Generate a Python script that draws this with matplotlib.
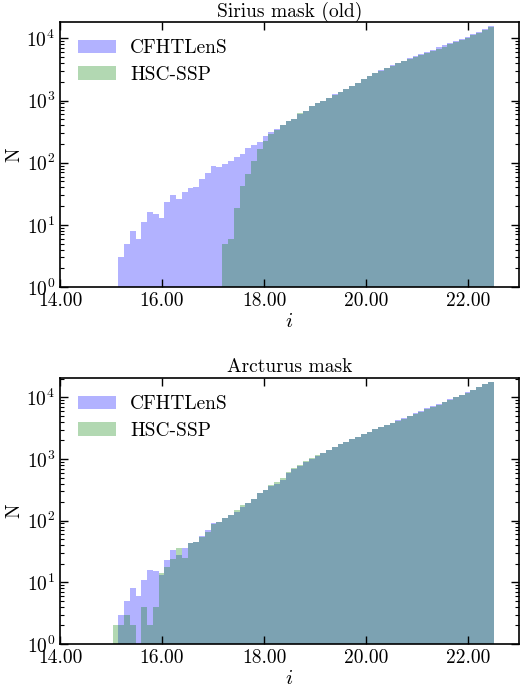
import numpy as np
import matplotlib
matplotlib.use("Agg")
import matplotlib.pyplot as plt
from matplotlib.ticker import FixedLocator, FormatStrFormatter, LogLocator, NullLocator

plt.rcParams['font.family'] = 'serif'
plt.rcParams['font.serif'] = ['cmr10', 'DejaVu Serif']
plt.rcParams['mathtext.fontset'] = 'cm'
plt.rcParams['axes.formatter.use_mathtext'] = True

# histogram binning (i magnitude)
bin_lo, bin_hi, n_bins = 15.03, 22.5, 66
edges = np.linspace(bin_lo, bin_hi, n_bins + 1)

# Panel 1: Sirius mask (old)
sirius_cfht = [0, 3, 5, 8, 6, 11, 16, 15, 13, 23, 30, 26, 34, 39, 41, 55, 68, 89, 84, 95,
               108, 122, 140, 172, 195, 213, 265, 318, 348, 410, 475, 505, 615, 670, 810, 915,
               975, 1100, 1259, 1396, 1549, 1718, 1928, 2213, 2512, 2786, 3090, 3388, 3715,
               4074, 4416, 4786, 5188, 5623, 6095, 6607, 7161, 7762, 8414, 9120, 9886, 10715,
               11749, 12882, 14289, 15776]
sirius_hsc = [0, 0, 0, 0, 0, 0, 0, 0, 0, 0, 0, 0, 0, 0, 0, 0, 0, 0, 0, 5,
              6, 19, 43, 66, 105, 165, 220, 290, 340, 405, 470, 505, 630, 690, 820, 910,
              970, 1090, 1250, 1390, 1540, 1710, 1915, 2200, 2490, 2750, 3040, 3330, 3640,
              3980, 4300, 4640, 5000, 5400, 5840, 6330, 6850, 7420, 8040, 8720, 9460, 10250,
              11250, 12350, 13700, 15150]

# Panel 2: Arcturus mask
arct_cfht = [0, 3, 5, 8, 6, 11, 16, 15, 13, 23, 33, 28, 36, 43, 45, 57, 70, 92, 96, 109,
             123, 140, 165, 190, 221, 277, 313, 363, 400, 460, 589, 676, 776, 902, 1000, 1109,
             1230, 1380, 1549, 1718, 1905, 2089, 2291, 2512, 2754, 3020, 3273, 3548, 3890,
             4217, 4571, 5012, 5495, 6026, 6607, 7161, 7762, 8511, 9226, 10000, 10839, 12023,
             13183, 14622, 16218, 17783]
arct_hsc = [2, 2, 3, 2, 0, 4, 2, 4, 14, 18, 24, 36, 25, 43, 45, 55, 66, 88, 96, 109,
            123, 148, 178, 190, 221, 277, 320, 385, 425, 500, 615, 710, 810, 940, 1040, 1140,
            1250, 1390, 1560, 1725, 1910, 2090, 2290, 2510, 2750, 3010, 3260, 3530, 3870,
            4190, 4530, 4950, 5400, 5850, 6350, 6900, 7550, 8400, 9150, 9950, 10800, 11950,
            13100, 14550, 16150, 17700]

titles = ["Sirius mask (old)", "Arcturus mask"]
series = [(sirius_cfht, sirius_hsc), (arct_cfht, arct_hsc)]
labels = ["CFHTLenS", "HSC-SSP"]
xticks = [14, 16, 18, 20, 22]
ytops = [10**4.265, 10**4.318]

fig = plt.figure(figsize=(5.2, 6.88), dpi=100)
rects = [[60/520, 1-287/688, 459/520, 265/688],
         [60/520, 1-644/688, 459/520, 266.3/688]]

centers = 0.5 * (edges[:-1] + edges[1:])
for rect, title, (cf, hs), ytop in zip(rects, titles, series, ytops):
    ax = fig.add_axes(rect)
    ax.hist(centers, bins=edges, weights=np.array(cf, float), histtype='stepfilled',
            color='b', alpha=0.3, linewidth=0, label=labels[0])
    ax.hist(centers, bins=edges, weights=np.array(hs, float), histtype='stepfilled',
            color='g', alpha=0.3, linewidth=0, label=labels[1])
    ax.set_yscale('log')
    ax.set_xlim(14, 23)
    ax.set_ylim(1, ytop)
    ax.xaxis.set_major_locator(FixedLocator(xticks))
    ax.xaxis.set_major_formatter(FormatStrFormatter('%.2f'))
    ax.xaxis.set_minor_locator(NullLocator())
    ax.yaxis.set_major_locator(LogLocator(base=10, numticks=10))
    ax.yaxis.set_minor_locator(LogLocator(base=10, subs=np.arange(2, 10), numticks=20))
    ax.tick_params(which='both', direction='in', top=True, right=True, labelsize=14)
    ax.tick_params(which='major', length=6, width=1)
    ax.tick_params(which='minor', length=3, width=0.8)
    for s in ax.spines.values():
        s.set_linewidth(1.2)
    ax.set_title(title, fontsize=14, pad=4)
    ax.set_xlabel('$i$', fontsize=15, labelpad=2)
    ax.set_ylabel('N', fontsize=14, labelpad=2)
    ax.legend(loc='upper left', frameon=False, fontsize=14, handlelength=2.0,
              handletextpad=0.7, labelspacing=0.45)

fig.savefig('out.png', dpi=100)
